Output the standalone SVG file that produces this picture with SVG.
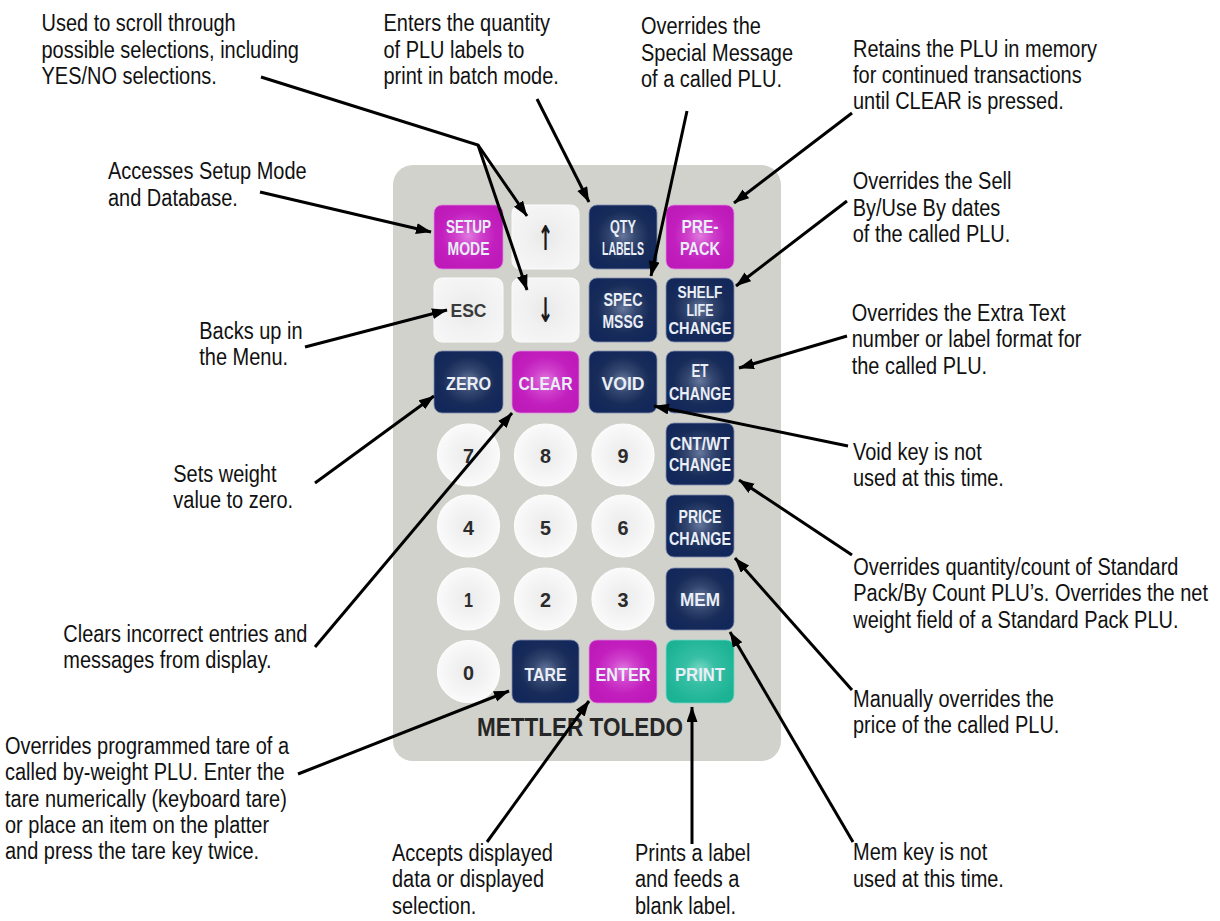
<svg xmlns="http://www.w3.org/2000/svg" width="1220" height="921" viewBox="0 0 1220 921">
<style>
.lbl{font-family:"Liberation Sans",Arial,sans-serif;font-size:23.5px;fill:#111;}
.kl{font-family:"Liberation Sans",Arial,sans-serif;font-size:17.5px;font-weight:bold;fill:#e9eef7;text-anchor:middle;}
.kb{font-family:"Liberation Sans",Arial,sans-serif;font-size:19px;font-weight:bold;fill:#e9eef7;text-anchor:middle;}
.kd{font-family:"Liberation Sans",Arial,sans-serif;font-size:21px;font-weight:bold;fill:#2b2b2b;text-anchor:middle;}
.arw{font-family:"DejaVu Sans",sans-serif;font-size:34px;font-weight:bold;fill:#1a1a1a;text-anchor:middle;}
.conn{stroke:#000;stroke-width:3;fill:none;stroke-linejoin:miter;marker-end:url(#ah);}
.navy{fill:url(#gNavy);stroke:#7d8bab;stroke-width:0.8;}
.mag{fill:url(#gMag);stroke:#e08ade;stroke-width:0.8;}
.teal{fill:url(#gTeal);stroke:#7ad8c6;stroke-width:0.8;}
.wht{fill:url(#gWht);stroke:#fbfbfb;stroke-width:1;}
.rnd{fill:url(#gRnd);stroke:#fdfdfd;stroke-width:1.2;}
</style>
<defs>
<marker id="ah" markerUnits="userSpaceOnUse" markerWidth="16" markerHeight="12" refX="15" refY="5.5" orient="auto">
<path d="M0,0 L15.5,5.5 L0,11 Z" fill="#000"/>
</marker>
<radialGradient id="gNavy" cx="50%" cy="48%" r="55%">
<stop offset="0" stop-color="#66779c"/>
<stop offset="0.35" stop-color="#33466f"/>
<stop offset="0.7" stop-color="#182c5a"/>
<stop offset="1" stop-color="#13285a"/>
</radialGradient>
<radialGradient id="gMag" cx="50%" cy="48%" r="55%">
<stop offset="0" stop-color="#e07ade"/>
<stop offset="0.35" stop-color="#cf3fcb"/>
<stop offset="0.7" stop-color="#c21fbe"/>
<stop offset="1" stop-color="#bd1ab9"/>
</radialGradient>
<radialGradient id="gTeal" cx="50%" cy="48%" r="55%">
<stop offset="0" stop-color="#7cd9c7"/>
<stop offset="0.4" stop-color="#36bfa4"/>
<stop offset="1" stop-color="#1cb394"/>
</radialGradient>
<radialGradient id="gWht" cx="50%" cy="50%" r="60%">
<stop offset="0" stop-color="#e9e9e9"/>
<stop offset="0.5" stop-color="#f1f1f1"/>
<stop offset="1" stop-color="#f6f6f6"/>
</radialGradient>
<radialGradient id="gRnd" cx="50%" cy="50%" r="50%">
<stop offset="0" stop-color="#ebebeb"/>
<stop offset="0.55" stop-color="#f3f3f3"/>
<stop offset="1" stop-color="#fafafa"/>
</radialGradient>
</defs>
<rect width="1220" height="921" fill="#fff"/>

<g id="keypad">
<rect x="393" y="165" width="388" height="596" rx="20" fill="#d2d2cd"/>
<text x="580" y="736" textLength="206" lengthAdjust="spacingAndGlyphs" style="font-family:'Liberation Sans',Arial,sans-serif;font-size:25px;font-weight:bold;fill:#262626;text-anchor:middle">METTLER TOLEDO</text>
</g>

<g id="key-setup"><rect class="mag" x="434" y="205" width="69" height="64" rx="8"/><text class="kl" x="468.5" y="233" textLength="45" lengthAdjust="spacingAndGlyphs">SETUP</text><text class="kl" x="468.5" y="255" textLength="42" lengthAdjust="spacingAndGlyphs">MODE</text></g>
<g id="key-up"><rect class="wht" x="512" y="205" width="67" height="64" rx="8"/><text class="arw" x="545.5" y="238" dominant-baseline="central" transform="translate(545.5 0) scale(0.55 1) translate(-545.5 0)">↑</text></g>
<g id="key-qty"><rect class="navy" x="589" y="205" width="68" height="64" rx="8"/><text class="kl" x="623" y="233" textLength="26" lengthAdjust="spacingAndGlyphs">QTY</text><text class="kl" x="623" y="255" textLength="42" lengthAdjust="spacingAndGlyphs">LABELS</text></g>
<g id="key-prepack"><rect class="mag" x="666" y="205" width="68" height="64" rx="8"/><text class="kl" x="700" y="233" textLength="37" lengthAdjust="spacingAndGlyphs">PRE-</text><text class="kl" x="700" y="255" textLength="40" lengthAdjust="spacingAndGlyphs">PACK</text></g>

<g id="key-esc"><rect class="wht" x="434" y="278" width="69" height="64" rx="8"/><text class="kb" x="468.5" y="317" textLength="36" lengthAdjust="spacingAndGlyphs" style="fill:#3a3a3a">ESC</text></g>
<g id="key-down"><rect class="wht" x="512" y="278" width="67" height="64" rx="8"/><text class="arw" x="545.5" y="310" dominant-baseline="central" transform="translate(545.5 0) scale(0.55 1) translate(-545.5 0)">↓</text></g>
<g id="key-spec"><rect class="navy" x="589" y="278" width="68" height="64" rx="8"/><text class="kl" x="623" y="306" textLength="39" lengthAdjust="spacingAndGlyphs">SPEC</text><text class="kl" x="623" y="328" textLength="41" lengthAdjust="spacingAndGlyphs">MSSG</text></g>
<g id="key-shelf"><rect class="navy" x="666" y="278" width="68" height="64" rx="8"/><text class="kl" x="700" y="298" style="font-size:16px" textLength="45" lengthAdjust="spacingAndGlyphs">SHELF</text><text class="kl" x="700" y="316" style="font-size:16px" textLength="27" lengthAdjust="spacingAndGlyphs">LIFE</text><text class="kl" x="700" y="334" style="font-size:16px" textLength="63" lengthAdjust="spacingAndGlyphs">CHANGE</text></g>

<g id="key-zero"><rect class="navy" x="434" y="351" width="69" height="62" rx="8"/><text class="kb" x="468.5" y="390" textLength="45" lengthAdjust="spacingAndGlyphs">ZERO</text></g>
<g id="key-clear"><rect class="mag" x="512" y="351" width="67" height="62" rx="8"/><text class="kb" x="545.5" y="390" textLength="54" lengthAdjust="spacingAndGlyphs">CLEAR</text></g>
<g id="key-void"><rect class="navy" x="589" y="351" width="68" height="62" rx="8"/><text class="kb" x="623" y="390" textLength="43" lengthAdjust="spacingAndGlyphs">VOID</text></g>
<g id="key-et"><rect class="navy" x="666" y="351" width="68" height="62" rx="8"/><text class="kl" x="700" y="377" textLength="17" lengthAdjust="spacingAndGlyphs">ET</text><text class="kl" x="700" y="400" textLength="62" lengthAdjust="spacingAndGlyphs">CHANGE</text></g>

<g id="key-7"><circle class="rnd" cx="468.5" cy="455" r="31"/><text class="kd" x="468.5" y="463" textLength="11" lengthAdjust="spacingAndGlyphs">7</text></g>
<g id="key-8"><circle class="rnd" cx="545.5" cy="455" r="31"/><text class="kd" x="545.5" y="463" textLength="11" lengthAdjust="spacingAndGlyphs">8</text></g>
<g id="key-9"><circle class="rnd" cx="623" cy="455" r="31"/><text class="kd" x="623" y="463" textLength="11" lengthAdjust="spacingAndGlyphs">9</text></g>
<g id="key-cntwt"><rect class="navy" x="666" y="423" width="68" height="62" rx="8"/><text class="kl" x="700" y="450" textLength="60" lengthAdjust="spacingAndGlyphs">CNT/WT</text><text class="kl" x="700" y="471" textLength="62" lengthAdjust="spacingAndGlyphs">CHANGE</text></g>

<g id="key-4"><circle class="rnd" cx="468.5" cy="526" r="31"/><text class="kd" x="468.5" y="535" textLength="11" lengthAdjust="spacingAndGlyphs">4</text></g>
<g id="key-5"><circle class="rnd" cx="545.5" cy="526" r="31"/><text class="kd" x="545.5" y="535" textLength="11" lengthAdjust="spacingAndGlyphs">5</text></g>
<g id="key-6"><circle class="rnd" cx="623" cy="526" r="31"/><text class="kd" x="623" y="535" textLength="11" lengthAdjust="spacingAndGlyphs">6</text></g>
<g id="key-price"><rect class="navy" x="666" y="495" width="68" height="62" rx="8"/><text class="kl" x="700" y="523" textLength="43" lengthAdjust="spacingAndGlyphs">PRICE</text><text class="kl" x="700" y="545" textLength="62" lengthAdjust="spacingAndGlyphs">CHANGE</text></g>

<g id="key-1"><circle class="rnd" cx="468.5" cy="599" r="31"/><text class="kd" x="468.5" y="607" textLength="9" lengthAdjust="spacingAndGlyphs">1</text></g>
<g id="key-2"><circle class="rnd" cx="545.5" cy="599" r="31"/><text class="kd" x="545.5" y="607" textLength="11" lengthAdjust="spacingAndGlyphs">2</text></g>
<g id="key-3"><circle class="rnd" cx="623" cy="599" r="31"/><text class="kd" x="623" y="607" textLength="11" lengthAdjust="spacingAndGlyphs">3</text></g>
<g id="key-mem"><rect class="navy" x="666" y="568" width="68" height="62" rx="8"/><text class="kb" x="700" y="606" textLength="40" lengthAdjust="spacingAndGlyphs">MEM</text></g>

<g id="key-0"><circle class="rnd" cx="468.5" cy="671.5" r="31"/><text class="kd" x="468.5" y="680" textLength="11" lengthAdjust="spacingAndGlyphs">0</text></g>
<g id="key-tare"><rect class="navy" x="512" y="640" width="67" height="63" rx="8"/><text class="kb" x="545.5" y="681" textLength="42" lengthAdjust="spacingAndGlyphs">TARE</text></g>
<g id="key-enter"><rect class="mag" x="589" y="640" width="68" height="63" rx="8"/><text class="kb" x="623" y="681" textLength="55" lengthAdjust="spacingAndGlyphs">ENTER</text></g>
<g id="key-print"><rect class="teal" x="666" y="640" width="68" height="63" rx="8"/><text class="kb" x="700" y="681" textLength="50" lengthAdjust="spacingAndGlyphs">PRINT</text></g>

<g id="connectors">
<path class="conn" d="M261,77 L478,145 L527,216"/>
<path class="conn" d="M478,145 L527,290"/>
<path class="conn" d="M537,99 L589,202"/>
<path class="conn" d="M687,111 L651,276"/>
<path class="conn" d="M852,113 L734,203"/>
<path class="conn" d="M260,192 L431,232"/>
<path class="conn" d="M305,347 L447,310"/>
<path class="conn" d="M847,201 L736,286"/>
<path class="conn" d="M847,336 L739,368"/>
<path class="conn" d="M848,446 L654,406"/>
<path class="conn" d="M315,483 L434,396"/>
<path class="conn" d="M315,647 L512,413"/>
<path class="conn" d="M852,555 L739,480"/>
<path class="conn" d="M852,690 L735,558"/>
<path class="conn" d="M853,842 L730,632"/>
<path class="conn" d="M298,774 L509,691"/>
<path class="conn" d="M487,842 L589,701"/>
<path class="conn" d="M692,844 L692,707"/>
</g>

<g id="note-scroll"><text class="lbl" transform="translate(41.5 0) scale(0.85 1)"><tspan x="0" y="31.5">Used to scroll through</tspan><tspan x="0" y="57.8">possible selections, including</tspan><tspan x="0" y="84.1">YES/NO selections.</tspan></text></g>
<g id="note-qty"><text class="lbl" transform="translate(383.5 0) scale(0.85 1)"><tspan x="0" y="31.5">Enters the quantity</tspan><tspan x="0" y="57.8">of PLU labels to</tspan><tspan x="0" y="84.1">print in batch mode.</tspan></text></g>
<g id="note-spec"><text class="lbl" transform="translate(641 0) scale(0.85 1)"><tspan x="0" y="34.4">Overrides the</tspan><tspan x="0" y="60.7">Special Message</tspan><tspan x="0" y="87">of a called PLU.</tspan></text></g>
<g id="note-prepack"><text class="lbl" transform="translate(853 0) scale(0.85 1)"><tspan x="0" y="56.6">Retains the PLU in memory</tspan><tspan x="0" y="82.9">for continued transactions</tspan><tspan x="0" y="109.2">until CLEAR is pressed.</tspan></text></g>
<g id="note-setup"><text class="lbl" transform="translate(108 0) scale(0.85 1)"><tspan x="0" y="179.3">Accesses Setup Mode</tspan><tspan x="0" y="205.6">and Database.</tspan></text></g>
<g id="note-esc"><text class="lbl" transform="translate(199.3 0) scale(0.85 1)"><tspan x="0" y="339">Backs up in</tspan><tspan x="0" y="365.3">the Menu.</tspan></text></g>
<g id="note-shelf"><text class="lbl" transform="translate(852.7 0) scale(0.85 1)"><tspan x="0" y="189.3">Overrides the Sell</tspan><tspan x="0" y="215.6">By/Use By dates</tspan><tspan x="0" y="241.9">of the called PLU.</tspan></text></g>
<g id="note-et"><text class="lbl" transform="translate(851.7 0) scale(0.85 1)"><tspan x="0" y="321">Overrides the Extra Text</tspan><tspan x="0" y="347.3">number or label format for</tspan><tspan x="0" y="373.6">the called PLU.</tspan></text></g>
<g id="note-void"><text class="lbl" transform="translate(853 0) scale(0.85 1)"><tspan x="0" y="460">Void key is not</tspan><tspan x="0" y="486.3">used at this time.</tspan></text></g>
<g id="note-zero"><text class="lbl" transform="translate(173.3 0) scale(0.85 1)"><tspan x="0" y="481.7">Sets weight</tspan><tspan x="0" y="508">value to zero.</tspan></text></g>
<g id="note-clear"><text class="lbl" transform="translate(63.3 0) scale(0.85 1)"><tspan x="0" y="641.7">Clears incorrect entries and</tspan><tspan x="0" y="668">messages from display.</tspan></text></g>
<g id="note-cntwt"><text class="lbl" transform="translate(853.3 0) scale(0.85 1)"><tspan x="0" y="575">Overrides quantity/count of Standard</tspan><tspan x="0" y="601.3">Pack/By Count PLU’s. Overrides the net</tspan><tspan x="0" y="627.6">weight field of a Standard Pack PLU.</tspan></text></g>
<g id="note-price"><text class="lbl" transform="translate(853 0) scale(0.85 1)"><tspan x="0" y="706.7">Manually overrides the</tspan><tspan x="0" y="733">price of the called PLU.</tspan></text></g>
<g id="note-mem"><text class="lbl" transform="translate(853 0) scale(0.85 1)"><tspan x="0" y="860.5">Mem key is not</tspan><tspan x="0" y="886.8">used at this time.</tspan></text></g>
<g id="note-tare"><text class="lbl" transform="translate(5 0) scale(0.85 1)"><tspan x="0" y="754">Overrides programmed tare of a</tspan><tspan x="0" y="780.3">called by-weight PLU. Enter the</tspan><tspan x="0" y="806.6">tare numerically (keyboard tare)</tspan><tspan x="0" y="832.9">or place an item on the platter</tspan><tspan x="0" y="859.2">and press the tare key twice.</tspan></text></g>
<g id="note-enter"><text class="lbl" transform="translate(392 0) scale(0.85 1)"><tspan x="0" y="861">Accepts displayed</tspan><tspan x="0" y="887.3">data or displayed</tspan><tspan x="0" y="913.6">selection.</tspan></text></g>
<g id="note-print"><text class="lbl" transform="translate(635 0) scale(0.85 1)"><tspan x="0" y="861">Prints a label</tspan><tspan x="0" y="887.3">and feeds a</tspan><tspan x="0" y="913.6">blank label.</tspan></text></g>
</svg>
